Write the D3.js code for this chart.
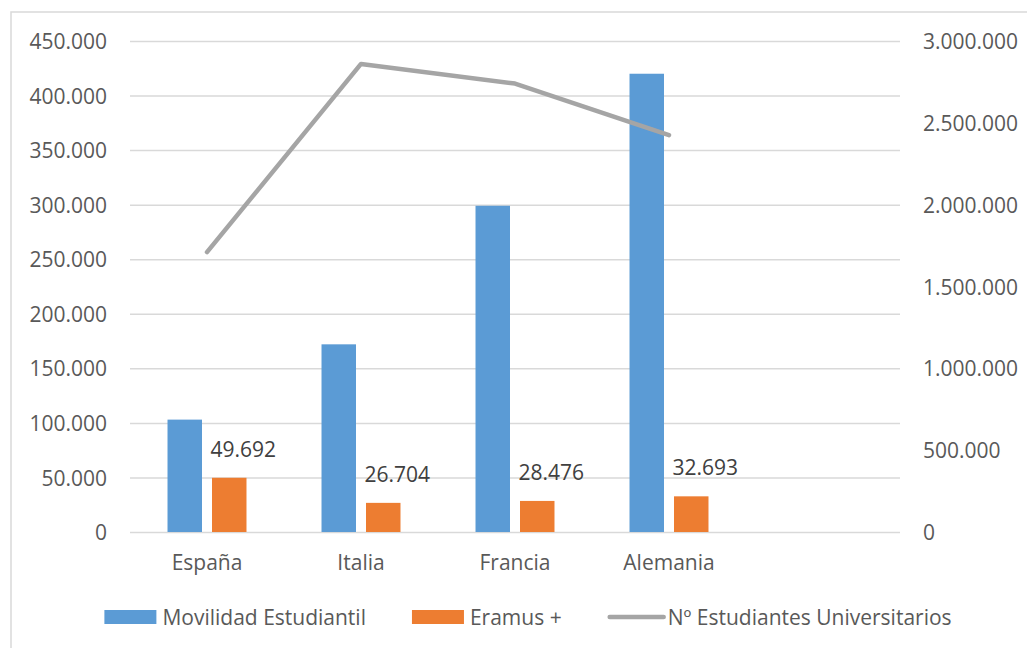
<!DOCTYPE html>
<html>
<head>
<meta charset="utf-8">
<script src="https://cdn.jsdelivr.net/npm/d3@7"></script>
<style>
  body { margin: 0; background: #fff; }
  text { font-family: "Open Sans", sans-serif; }
</style>
</head>
<body>
<div id="chart"></div>
<script>
// chart data
var categories = ["España", "Italia", "Francia", "Alemania", ""];
var seriesNames = ["Movilidad Estudiantil", "Eramus +", "Nº Estudiantes Universitarios"];
var movilidad = [103000, 172000, 299000, 420000];
var erasmus = [49692, 26704, 28476, 32693];
var universitarios = [1710000, 2860000, 2740000, 2425000];
var leftTicks = [0, 50000, 100000, 150000, 200000, 250000, 300000, 350000, 400000, 450000];
var rightTicks = [0, 500000, 1000000, 1500000, 2000000, 2500000, 3000000];

var svgWidth = 1027;
var svgHeight = 648;

var plot = { left: 130, right: 900, top: 41, bottom: 532 };

var colors = { blue: "#5B9BD5", orange: "#ED7D31", grey: "#A5A5A5", grid: "#D9D9D9" };

var locale = d3.formatLocale({ decimal: ",", thousands: ".", grouping: [3], currency: ["", "€"] });
var fmt = locale.format(",d");

var svg = d3.select("#chart")
  .append("svg")
  .attr("width", svgWidth)
  .attr("height", svgHeight);

svg.append("rect")
  .attr("width", svgWidth)
  .attr("height", svgHeight)
  .attr("fill", "#fff");

// outer chart frame (right and bottom edges fall outside the picture)
svg.append("rect")
  .attr("x", 11)
  .attr("y", 12)
  .attr("width", svgWidth + 20)
  .attr("height", svgHeight + 20)
  .attr("fill", "none")
  .attr("stroke", colors.grid)
  .attr("stroke-width", 1.5);

// scales
var x = d3.scaleBand()
  .domain(categories)
  .range([plot.left, plot.right]);

var xInner = d3.scaleBand()
  .domain([0, 1])
  .range([0, x.bandwidth()])
  .paddingInner(0.225)
  .paddingOuter(0.843);

var yLeft = d3.scaleLinear()
  .domain([0, 450000])
  .range([plot.bottom, plot.top]);

var yRight = d3.scaleLinear()
  .domain([0, 3000000])
  .range([plot.bottom, plot.top]);

// left axis with gridlines
var leftAxis = d3.axisLeft(yLeft)
  .tickValues(leftTicks)
  .tickFormat(fmt)
  .tickSize(-(plot.right - plot.left))
  .tickPadding(23);

var gLeft = svg.append("g")
  .attr("transform", `translate(${plot.left},0)`)
  .call(leftAxis);
gLeft.select(".domain").remove();
gLeft.selectAll("line").attr("stroke", colors.grid).attr("stroke-width", 1.5);
gLeft.selectAll("text")
  .attr("fill", "#595959")
  .style("font-size", "21px")
  .attr("dy", "0.36em");

// right axis
var rightAxis = d3.axisRight(yRight)
  .tickValues(rightTicks)
  .tickFormat(fmt)
  .tickSize(0)
  .tickPadding(23);

var gRight = svg.append("g")
  .attr("transform", `translate(${plot.right},0)`)
  .call(rightAxis);
gRight.select(".domain").remove();
gRight.selectAll("text")
  .attr("fill", "#595959")
  .style("font-size", "21px")
  .attr("dy", "0.36em");

// category axis
var bottomAxis = d3.axisBottom(x)
  .tickSize(0)
  .tickPadding(23);

var gBottom = svg.append("g")
  .attr("transform", `translate(0,${plot.bottom})`)
  .call(bottomAxis);
gBottom.select(".domain").remove();
gBottom.selectAll("text")
  .attr("fill", "#595959")
  .style("font-size", "21px");

// bars
var barData = [movilidad, erasmus];
var barColors = [colors.blue, colors.orange];

barData.forEach(function(values, s) {
  svg.append("g")
    .selectAll("rect")
    .data(values)
    .enter()
    .append("rect")
    .attr("x", (d, i) => x(categories[i]) + xInner(s))
    .attr("y", d => yLeft(d))
    .attr("width", xInner.bandwidth())
    .attr("height", d => plot.bottom - yLeft(d))
    .attr("fill", barColors[s]);
});

// data labels on Erasmus bars
svg.append("g")
  .selectAll("text")
  .data(erasmus)
  .enter()
  .append("text")
  .attr("x", (d, i) => x(categories[i]) + xInner(1) + xInner.bandwidth() / 2 + 14)
  .attr("y", d => yLeft(d) - 21)
  .attr("text-anchor", "middle")
  .attr("fill", "#404040")
  .style("font-size", "21px")
  .text(d => fmt(d));

// line on right axis
var line = d3.line()
  .x((d, i) => x(categories[i]) + x.bandwidth() / 2)
  .y(d => yRight(d));

svg.append("path")
  .datum(universitarios)
  .attr("d", line)
  .attr("fill", "none")
  .attr("stroke", colors.grey)
  .attr("stroke-width", 4.5)
  .attr("stroke-linecap", "round")
  .attr("stroke-linejoin", "round");

// legend
var legend = svg.append("g");
var legendY = 617;
var swatchW = 52;
var itemGap = 46;
var cursor = 0;

seriesNames.forEach(function(name, i) {
  var item = legend.append("g").attr("transform", `translate(${cursor},0)`);
  if (i < 2) {
    item.append("rect")
      .attr("x", 0)
      .attr("y", legendY - 7)
      .attr("width", swatchW)
      .attr("height", 14)
      .attr("fill", barColors[i]);
  } else {
    item.append("line")
      .attr("x1", 2)
      .attr("x2", swatchW + 4)
      .attr("y1", legendY)
      .attr("y2", legendY)
      .attr("stroke", colors.grey)
      .attr("stroke-width", 4.5)
      .attr("stroke-linecap", "round");
  }
  var t = item.append("text")
    .attr("x", swatchW + (i < 2 ? 6 : 8))
    .attr("y", legendY)
    .attr("dy", "0.36em")
    .attr("fill", "#595959")
    .style("font-size", "21px")
    .text(name);
  cursor += swatchW + (i < 2 ? 6 : 8) + t.node().getComputedTextLength() + itemGap;
});

var legendWidth = cursor - itemGap;
legend.attr("transform", `translate(${528 - legendWidth / 2},0)`);
</script>
</body>
</html>
